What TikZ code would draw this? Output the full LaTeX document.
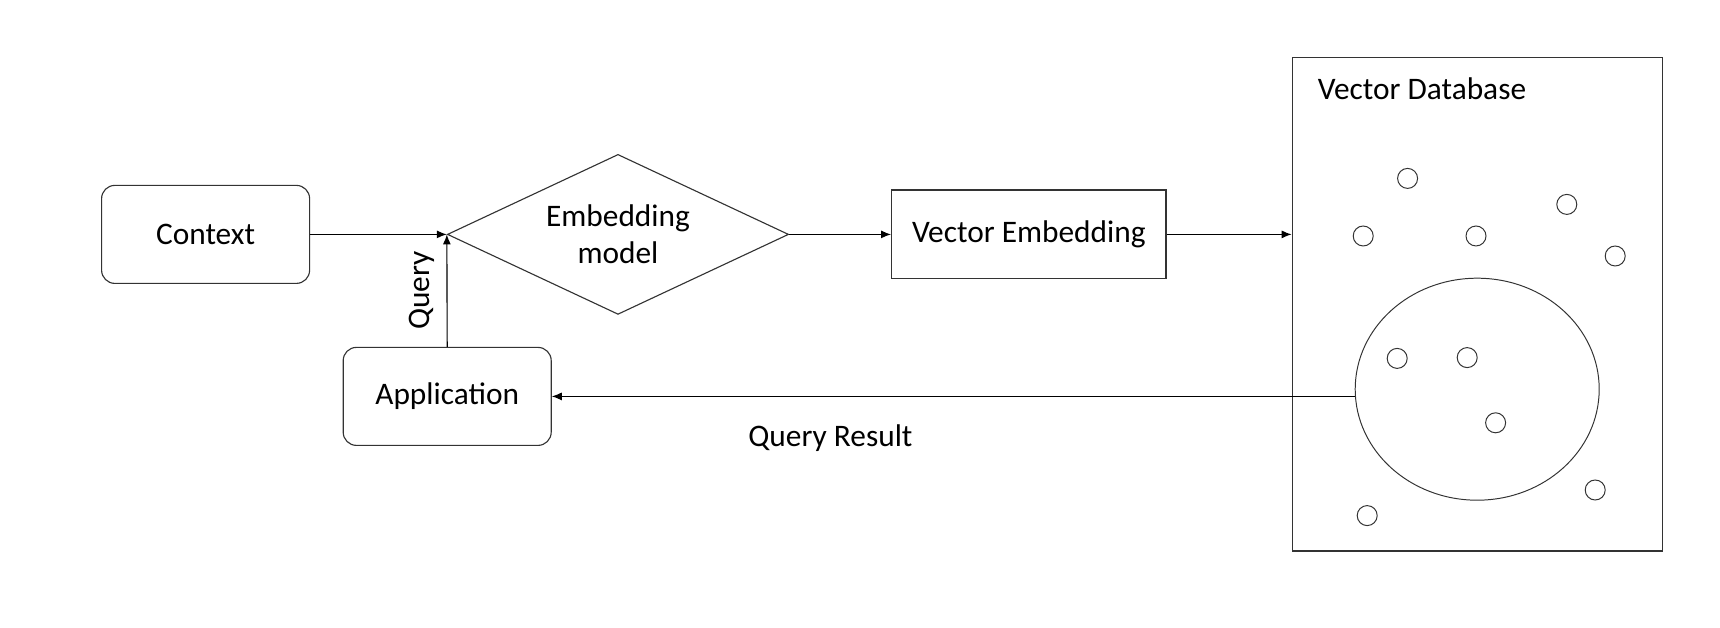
\documentclass[tikz,border=0pt]{standalone}
\usepackage{fontspec}
\setmainfont{Carlito}
\usetikzlibrary{shapes.geometric,arrows.meta}
\begin{document}
\begin{tikzpicture}[font=\fontsize{22.3}{26}\selectfont, line width=0.8pt,
    >={Latex[length=2.5mm,width=2mm]},
    block/.style={draw=black!80, rounded corners=0.33cm, minimum width=5.2cm, minimum height=2.45cm},
    store/.style={draw=black!80, line width=0.7pt}]
      \useasboundingbox (0,0) rectangle (43,15.7);

	\node[block] (context) at (5.14,9.84) {Context};
	\node[block] (app) at (11.18,5.79) {Application};
	\node[draw=black!80, diamond, aspect=2.13, inner sep=0, minimum width=8.53cm, minimum height=4cm, align=center] (embed) at (15.45,9.84) {Embedding\\model};
	\node[draw=black!80, minimum width=6.86cm, minimum height=2.22cm] (vecemb) at (25.72,9.84) {Vector Embedding};

	\node[draw=black!80, minimum width=9.25cm, minimum height=12.33cm] (db) at (36.93,8.09) {};
	\node[anchor=west, inner sep=0] (dblabel) at (32.93,13.49) {Vector Database};
	\node[store, ellipse, minimum width=6.1cm, minimum height=5.55cm] (cluster) at (36.93,5.97) {};

	\foreach \p in {(35.19,11.24),(39.17,10.59),(34.08,9.80),(36.90,9.80),(40.38,9.30),
	                (34.93,6.74),(36.68,6.76),(37.39,5.13),(39.88,3.45),(34.18,2.81)}{
	   \draw[store] \p circle [radius=0.25];
	}

      \draw[->] (context) -- (embed.west);
      \draw[->] (app.north) -- node[rotate=90, above, inner sep=0.3cm] (querylabel) {Query} (embed.west);
      \draw[->] (embed.east) -- (vecemb.west);
      \draw[->] (vecemb.east) -- (vecemb.east -| db.west);
      \draw[->] (cluster.west |- app.east) -- (app.east);

	\node (qresult) at (20.76,4.74) {Query Result};
\end{tikzpicture}
\end{document}
